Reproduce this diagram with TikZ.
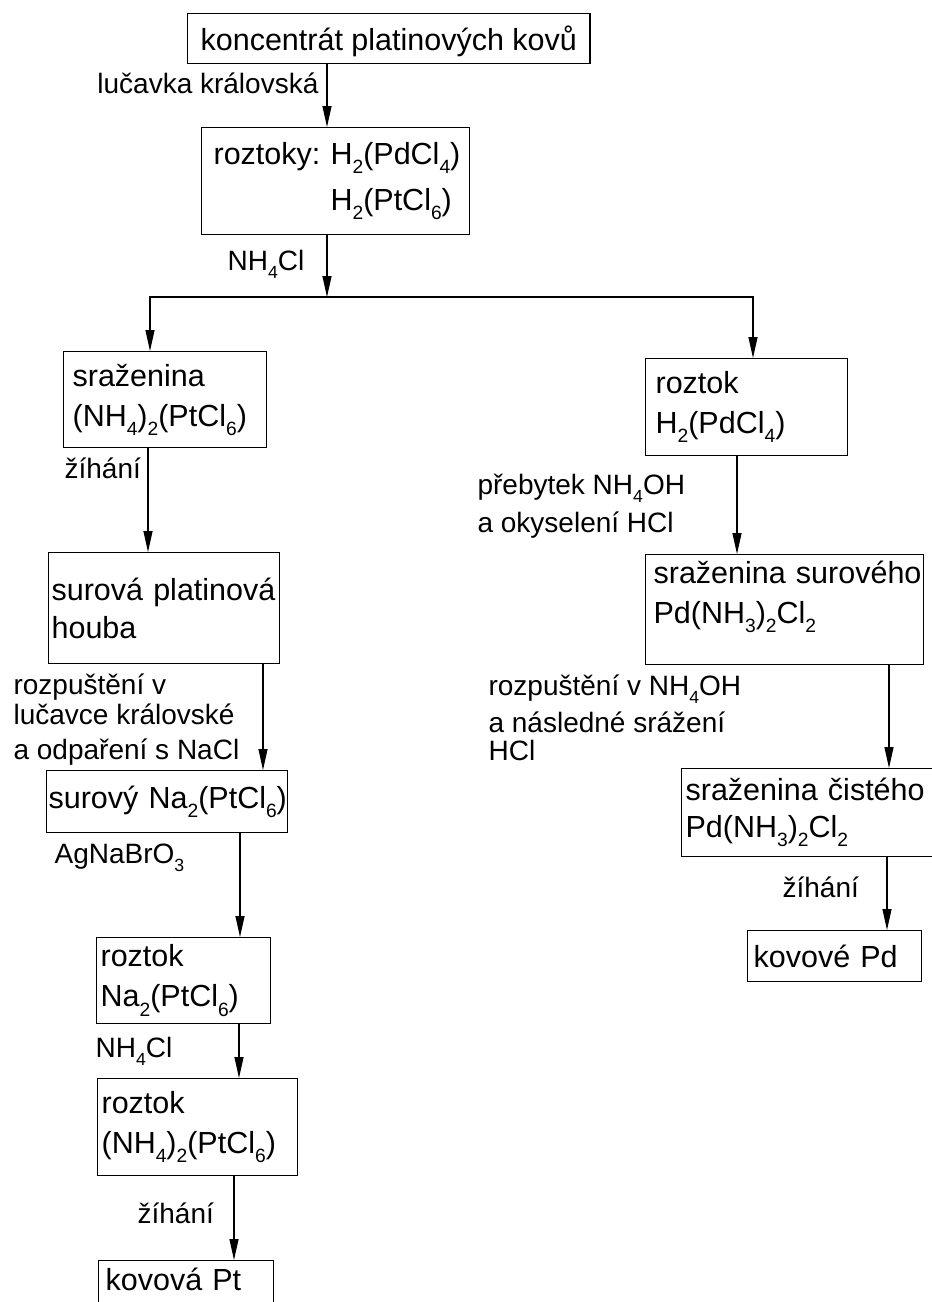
\documentclass[tikz,border=0pt]{standalone}
\usepackage{fontspec}
\setmainfont{Liberation Sans}
\usetikzlibrary{arrows.meta}
\newcommand\chsub[1]{\raisebox{-0.3em}{\scalebox{0.63}{#1}}}
\begin{document}
\begin{tikzpicture}[x=1pt,y=-1pt,line width=1.2pt,
  font=\fontsize{30.5}{40}\selectfont,
  box/.style={draw,rectangle,anchor=north west,inner sep=0pt,align=left},
  lbl/.style={anchor=base west,inner sep=0pt,align=left,font=\fontsize{28}{38}\selectfont},
  arr/.style={-{Triangle[length=21pt,width=9pt]}}]
  \useasboundingbox (0,0) rectangle (932,1302);
  \clip (0,0) rectangle (932,1302);
  \node[box,inner xsep=13pt,minimum height=50pt,text height=28pt,text depth=5pt] (conc) at (187,13) {koncentrát~platinových~kovů};
  \node[box,minimum width=268pt,minimum height=107pt,text width=244pt] (roztoky) at (201,127)
    {roztoky:~H\chsub{2}(PdCl\chsub{4})\\[6pt]\phantom{roztoky:~}H\chsub{2}(PtCl\chsub{6})};
  \coordinate (split) at (327,297);
  \node[box,minimum width=203pt,minimum height=96pt,text width=185pt] (srazPt) at (63,351)
    {sraženina\\(NH\chsub{4})\chsub{2}(PtCl\chsub{6})};
  \node[box,minimum width=231pt,minimum height=111pt,text width=225pt] (houba) at (48,552)
    {surová~platinová\\[-2pt]houba};
  \node[box,minimum width=241pt,minimum height=62pt,text width=237pt] (surNa) at (46,770)
    {surový~Na\chsub{2}(PtCl\chsub{6})};
  \node[box,minimum width=174pt,minimum height=86pt,text width=166pt] (rozNa) at (96,937)
    {roztok\\Na\chsub{2}(PtCl\chsub{6})};
  \node[box,minimum width=200pt,minimum height=97pt,text width=192pt] (rozNH) at (97,1078)
    {roztok\\(NH\chsub{4})\chsub{2}(PtCl\chsub{6})};
  \node[box,minimum width=175pt,text width=161pt,inner ysep=8pt,text height=22pt,text depth=30pt] (kovPt) at (98,1260)
    {kovová~Pt};
  \node[box,minimum width=202pt,minimum height=97pt,text width=182pt] (rozPd) at (645,358)
    {roztok\\H\chsub{2}(PdCl\chsub{4})};
  \node[box,minimum width=278pt,minimum height=110pt,text width=262pt] (srazSur) at (645,554)
    {sraženina~surového\\Pd(NH\chsub{3})\chsub{2}Cl\chsub{2}\\[-5pt]\mbox{}};
  \node[box,minimum width=300pt,minimum height=88pt,text width=292pt] (srazCis) at (681,768)
    {sraženina~čistého\\[-3pt]Pd(NH\chsub{3})\chsub{2}Cl\chsub{2}};
  \node[box,minimum width=174pt,minimum height=51pt,text width=162pt] (kovPd) at (747,930)
    {kovové~Pd};

  \node[lbl,anchor=base east] (lucavka) at (319,93) {lučavka~královská};
  \node[lbl] (nhcl) at (227,270) {NH\chsub{4}Cl};
  \node[lbl] (zihani) at (64,478) {žíhání};
  \node[lbl] (rozpust) at (13,759) {rozpuštění~v\\[-8pt]lučavce~královské\\[-3pt]a~odpaření~s~NaCl};
  \node[lbl] (agna) at (54,863) {AgNaBrO\chsub{3}};
  \node[lbl] (nhclb) at (95,1057) {NH\chsub{4}Cl};
  \node[lbl] (zihanib) at (137,1223) {žíhání};
  \node[lbl] (prebytek) at (477,532) {přebytek~NH\chsub{4}OH\\a~okyselení~HCl};
  \node[lbl] (rozpustb) at (488,760) {rozpuštění~v~NH\chsub{4}OH\\[-1pt]a~následné~srážení\\[-10pt]HCl};
  \node[lbl] (zihanic) at (782,897) {žíhání};

  \draw[arr] (conc.south -| split) -- (roztoky.north -| split);
  \draw[arr] (roztoky.south -| split) -- (split);
  \draw[arr] (split) -| (srazPt.north -| 150,0);
  \draw[arr] (split) -| (rozPd.north -| 753,0);
  \draw[arr] (srazPt.south -| 148,0) -- (houba.north -| 148,0);
  \draw[arr] (houba.south -| 263,0) -- (surNa.north -| 263,0);
  \draw[arr] (surNa.south -| 240,0) -- (rozNa.north -| 240,0);
  \draw[arr] (rozNa.south -| 239,0) -- (rozNH.north -| 239,0);
  \draw[arr] (rozNH.south -| 234,0) -- (kovPt.north -| 234,0);
  \draw[arr] (rozPd.south -| 737,0) -- (srazSur.north -| 737,0);
  \draw[arr] (srazSur.south -| 889,0) -- (srazCis.north -| 889,0);
  \draw[arr] (srazCis.south -| 887,0) -- (kovPd.north -| 887,0);
\end{tikzpicture}
\end{document}
